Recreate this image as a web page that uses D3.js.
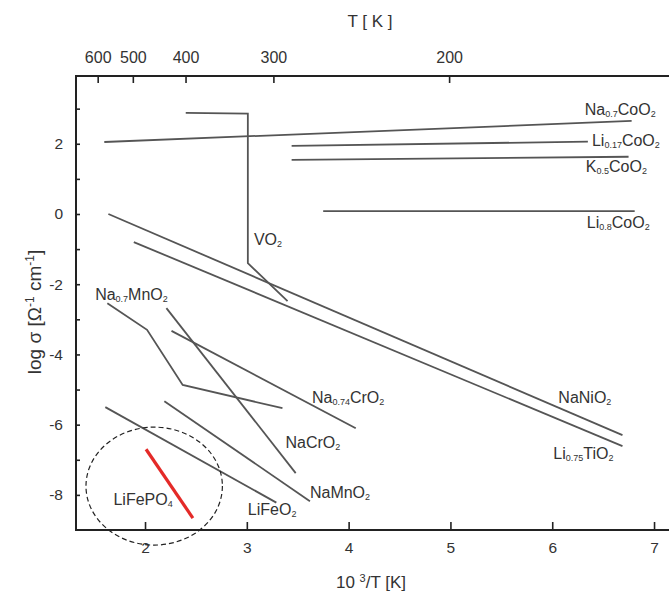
<!DOCTYPE html>
<html>
<head>
<meta charset="utf-8">
<script src="https://cdn.jsdelivr.net/npm/d3@7"></script>
<style>
  html, body { margin: 0; padding: 0; background: #fff; }
  svg { display: block; font-family: "Liberation Sans", Arial, sans-serif; }
</style>
</head>
<body>
<svg id="chart" width="669" height="596"></svg>
<script>
// Conductivity curves: [1000/T, log sigma] vertices
const na07CoO2   = [[1.60, 2.05], [6.78, 2.65]];
const li017CoO2  = [[3.44, 1.94], [6.35, 2.06]];
const k05CoO2    = [[3.44, 1.54], [6.75, 1.63]];
const li08CoO2   = [[3.75, 0.08], [6.81, 0.08]];
const vo2        = [[2.40, 2.88], [3.01, 2.86], [3.01, -1.40], [3.40, -2.48]];
const naNiO2     = [[1.64, 0.00], [6.69, -6.30]];
const li075TiO2  = [[1.89, -0.80], [6.69, -6.61]];
const na07MnO2   = [[1.63, -2.54], [2.02, -3.30], [2.37, -4.87], [3.35, -5.53]];
const naCrO2     = [[2.21, -2.68], [3.48, -7.38]];
const na074CrO2  = [[2.26, -3.33], [4.07, -6.10]];
const naMnO2     = [[2.19, -5.33], [3.62, -8.18]];
const liFeO2     = [[1.61, -5.50], [3.29, -8.22]];
const liFePO4    = [[2.01, -6.70], [2.47, -8.66]];

// Highlight region around LiFePO4: centre and semi-axes in data units
const highlightCentre = [2.09, -7.75];
const highlightRadii  = [0.67, 1.68];

// Axis ticks
const xTicks = [2, 3, 4, 5, 6, 7];
const yTicks = [-8, -7, -6, -5, -4, -3, -2, -1, 0, 1, 2, 3];
const yLabelled = [-8, -6, -4, -2, 0, 2];
const tempTicks = [600, 500, 400, 300, 200];

// Curve labels ("_{...}" marks a subscript), anchored in data units
const curveLabels = [
  ["Na_{0.7}CoO_{2}",  6.32,  2.82],
  ["Li_{0.17}CoO_{2}", 6.39,  1.94],
  ["K_{0.5}CoO_{2}",   6.33,  1.20],
  ["Li_{0.8}CoO_{2}",  6.34, -0.40],
  ["VO_{2}",           3.07, -0.88],
  ["NaNiO_{2}",        6.06, -5.38],
  ["Li_{0.75}TiO_{2}", 6.01, -6.98],
  ["Na_{0.7}MnO_{2}",  1.51, -2.45],
  ["Na_{0.74}CrO_{2}", 3.64, -5.38],
  ["NaCrO_{2}",        3.38, -6.67],
  ["NaMnO_{2}",        3.62, -8.09],
  ["LiFeO_{2}",        3.01, -8.58],
  ["LiFePO_{4}",       1.69, -8.29]
];

const svg = d3.select("#chart");
const W = 669;
const plotLeft = 76, plotTop = 76, plotBottom = 530;

const x = d3.scaleLinear().domain([1.322, 7.147]).range([plotLeft, W]);
const y = d3.scaleLinear().domain([-9, 3.93]).range([plotBottom, plotTop]);
// Upper temperature axis: position of 1000/T on the plot
const xT = d3.scaleLinear()
  .domain(x.domain().map(u => (u + 0.191) / 1.0356))
  .range(x.range());

const grey = "#555";
const ink = "#222";

// Axes
const bottomAxis = d3.axisBottom(x).tickValues(xTicks).tickSizeInner(-8)
  .tickSizeOuter(0).tickPadding(12).tickFormat(d => String(d));
const leftAxis = d3.axisLeft(y).tickValues(yTicks).tickSizeInner(-4)
  .tickSizeOuter(0).tickPadding(13)
  .tickFormat(d => yLabelled.includes(d) ? String(d) : "");
const topAxis = d3.axisTop(xT).tickValues(tempTicks.map(t => 1000 / t)).tickSizeInner(-7)
  .tickSizeOuter(0).tickPadding(13).tickFormat((d, i) => String(tempTicks[i]));

function styleAxis(g, size) {
  g.select(".domain").remove();
  g.selectAll(".tick line").attr("stroke", ink).attr("stroke-width", 1.6);
  g.selectAll(".tick text").attr("fill", "#333").attr("font-size", size)
    .attr("font-family", "Liberation Sans, Arial, sans-serif");
}

svg.append("g").attr("transform", `translate(0,${plotBottom})`).call(bottomAxis).call(styleAxis, 15.5);
svg.append("g").attr("transform", `translate(${plotLeft},0)`).call(leftAxis).call(styleAxis, 15.5);
svg.append("g").attr("transform", `translate(0,${plotTop})`).call(topAxis).call(styleAxis, 16);

// Frame (left, top, bottom edges)
svg.append("path")
  .attr("d", `M${W},${plotTop}H${plotLeft}V${plotBottom}H${W}`)
  .attr("fill", "none").attr("stroke", ink).attr("stroke-width", 2);

// Curves
const line = d3.line().x(d => x(d[0])).y(d => y(d[1]));
const greyCurves = [na07CoO2, li017CoO2, k05CoO2, li08CoO2, vo2, naNiO2, li075TiO2,
                    na07MnO2, naCrO2, na074CrO2, naMnO2, liFeO2];
svg.append("g").selectAll("path").data(greyCurves).join("path")
  .attr("d", line).attr("fill", "none").attr("stroke", grey)
  .attr("stroke-width", 1.8).attr("stroke-linejoin", "miter");

svg.append("path").attr("d", line(liFePO4))
  .attr("fill", "none").attr("stroke", "#e42a28").attr("stroke-width", 3.2);

// Dashed highlight ellipse
svg.append("ellipse")
  .attr("cx", x(highlightCentre[0])).attr("cy", y(highlightCentre[1]))
  .attr("rx", x(highlightCentre[0] + highlightRadii[0]) - x(highlightCentre[0]))
  .attr("ry", y(highlightCentre[1]) - y(highlightCentre[1] + highlightRadii[1]))
  .attr("fill", "none").attr("stroke", "#222").attr("stroke-width", 1.2)
  .attr("stroke-dasharray", "5,3");

// Text with "_{...}" subscripts and "^{...}" superscripts
function richText(sel, str, subSize) {
  const parts = str.split(/(_\{[^}]*\}|\^\{[^}]*\})/).filter(s => s.length);
  parts.forEach(p => {
    if (p.startsWith("_{")) {
      sel.append("tspan").attr("font-size", subSize).attr("baseline-shift", "-22%")
        .text(p.slice(2, -1));
    } else if (p.startsWith("^{")) {
      sel.append("tspan").attr("font-size", subSize).attr("baseline-shift", "55%")
        .text(p.slice(2, -1));
    } else {
      sel.append("tspan").text(p);
    }
  });
}

curveLabels.forEach(([txt, u, v]) => {
  const t = svg.append("text").attr("x", x(u)).attr("y", y(v))
    .attr("font-size", 16).attr("fill", "#333");
  richText(t, txt, 9);
});

// Axis titles
svg.append("text").attr("x", 370).attr("y", 27)
  .attr("text-anchor", "middle").attr("font-size", 17).attr("fill", "#333")
  .attr("xml:space", "preserve").text("T [ K ]");

const xTitle = svg.append("text").attr("x", 371).attr("y", 588)
  .attr("text-anchor", "middle").attr("font-size", 17).attr("fill", "#333");
richText(xTitle, "10 ^{3}/T [K]", 11);

const yTitle = svg.append("text")
  .attr("transform", "translate(41,312) rotate(-90)")
  .attr("text-anchor", "middle").attr("font-size", 19).attr("fill", "#333");
richText(yTitle, "log σ [Ω^{-1} cm^{-1}]", 12);
</script>
</body>
</html>
